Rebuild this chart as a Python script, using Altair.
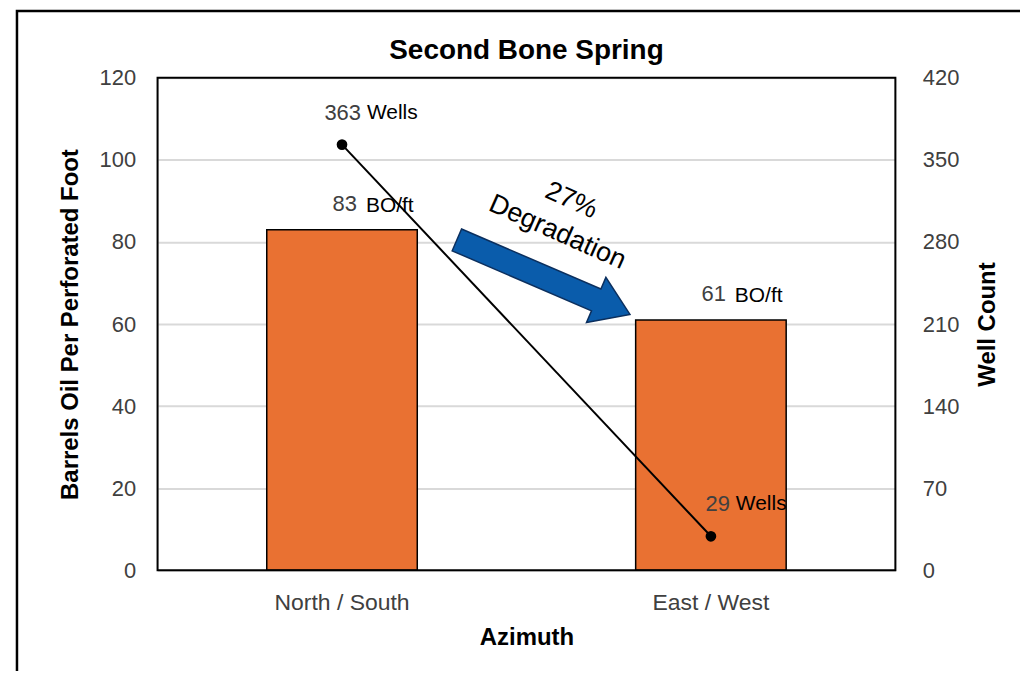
import altair as alt
import pandas as pd

categories = ["North / South", "East / West"]
bo_per_ft = [83, 61]
well_count = [363, 29]
bo_unit = ["BO/ft", "BO/ft"]
well_unit = ["Wells", "Wells"]
left_ticks = [0, 20, 40, 60, 80, 100, 120]
right_ticks = [0, 70, 140, 210, 280, 350, 420]
title_text = ["Second Bone Spring"]
arrow_pct = ["27%"]
arrow_word = ["Degradation"]

df = pd.DataFrame({
    "cat": categories,
    "bo": bo_per_ft,
    "wells": well_count,
    "bo_unit": bo_unit,
    "well_unit": well_unit,
})

FONT = "Liberation Sans"
W, H = 740, 494
ORANGE = "#E97132"
LABEL_GRAY = "#404040"

x_enc = alt.X(
    "cat:N", sort=categories,
    scale=alt.Scale(paddingInner=0.592, paddingOuter=0.296),
    axis=alt.Axis(title="Azimuth", labelAngle=0, labelFont=FONT, labelFontSize=23,
                  labelColor=LABEL_GRAY, labelPadding=21, ticks=False, domain=False,
                  titleFont=FONT, titleFontSize=24, titleFontWeight="bold",
                  titleColor="black", titlePadding=11),
)

y_left = alt.Y(
    "bo:Q", scale=alt.Scale(domain=[0, 120], nice=False),
    axis=alt.Axis(values=left_ticks, title="Barrels Oil Per Perforated Foot",
                  grid=True, gridColor="#D9D9D9", gridWidth=2, ticks=False, domain=False,
                  labelFont=FONT, labelFontSize=22, labelColor=LABEL_GRAY, labelPadding=22,
                  titleFont=FONT, titleFontSize=24, titleFontWeight="bold",
                  titleColor="black", titlePadding=17),
)

y_right = alt.Y(
    "wells:Q", scale=alt.Scale(domain=[0, 420], nice=False),
    axis=alt.Axis(orient="right", values=right_ticks, title="Well Count", grid=False,
                  ticks=False, domain=False, labelFont=FONT, labelFontSize=22,
                  labelColor=LABEL_GRAY, labelPadding=27, titleFont=FONT,
                  titleFontSize=24, titleFontWeight="bold", titleColor="black",
                  titleAngle=270, titleX=92, titleY=H / 2, titleAlign="center",
                  titleBaseline="middle"),
)

bars = alt.Chart().mark_bar(color=ORANGE, stroke="black", strokeWidth=1.5).encode(
    x=x_enc, y=y_left)
bar_num = alt.Chart().mark_text(align="right", baseline="alphabetic", dx=15, dy=-19,
                                font=FONT, fontSize=22, color=LABEL_GRAY).encode(
    x=x_enc, y=y_left, text="bo:Q")
bar_unit = alt.Chart().mark_text(align="left", baseline="alphabetic", dx=24, dy=-18,
                                 font=FONT, fontSize=21, color="black").encode(
    x=x_enc, y=y_left, text="bo_unit:N")
left = alt.layer(bars, bar_num, bar_unit)

line = alt.Chart().mark_line(color="black", strokeWidth=2).encode(
    x=x_enc, y=y_right, order=alt.Order("wells:Q", sort="descending"))
pts = alt.Chart().mark_point(filled=True, color="black", size=115, opacity=1).encode(
    x=x_enc, y=y_right)
well_num = alt.Chart().mark_text(align="right", baseline="alphabetic", dx=19, dy=-25,
                                 font=FONT, fontSize=22, color=LABEL_GRAY).encode(
    x=x_enc, y=y_right, text="wells:Q")
well_unit_t = alt.Chart().mark_text(align="left", baseline="alphabetic", dx=25, dy=-26,
                                    font=FONT, fontSize=21, color="black").encode(
    x=x_enc, y=y_right, text="well_unit:N")
right = alt.layer(line, pts, well_num, well_unit_t)

ARROW_PATH = ("M -1 -0.126 L 0.61 -0.126 L 0.61 -0.26 L 1 0 L 0.61 0.26 "
              "L 0.61 0.126 L -1 0.126 Z")
arrow = alt.Chart(pd.DataFrame({"k": [0]})).mark_point(
    shape=ARROW_PATH, size=35721, filled=True, fill="#0A5CAB", stroke="#0B2F5E",
    strokeWidth=1.5, angle=23.3, opacity=1, fillOpacity=1).encode(
    x=alt.value(387), y=alt.value(200))

t_pct = alt.Chart(pd.DataFrame({"t": arrow_pct})).mark_text(
    angle=24, font=FONT, fontSize=27, color="black", align="center", baseline="middle").encode(
    x=alt.value(415), y=alt.value(123), text="t:N")
t_word = alt.Chart(pd.DataFrame({"t": arrow_word})).mark_text(
    angle=24, font=FONT, fontSize=27, color="black", align="center", baseline="middle").encode(
    x=alt.value(401), y=alt.value(155), text="t:N")

title_mark = alt.Chart(pd.DataFrame({"t": title_text})).mark_text(
    font=FONT, fontSize=28, fontWeight="bold", color="black", align="center",
    baseline="alphabetic").encode(
    x=alt.value(W / 2), y=alt.value(-19), text="t:N")

plot_frame = alt.Chart(pd.DataFrame({"k": [0]})).mark_rect(
    fillOpacity=0, stroke="black", strokeWidth=2).encode(
    x=alt.value(0), x2=alt.value(W), y=alt.value(0), y2=alt.value(H))
outer_frame = alt.Chart(pd.DataFrame({"k": [0]})).mark_rect(
    fillOpacity=0, stroke="black", strokeWidth=2.5).encode(
    x=alt.value(-141), x2=alt.value(1000), y=alt.value(-67), y2=alt.value(700))

chart = alt.layer(
    left, right, arrow, t_pct, t_word, title_mark, plot_frame, outer_frame, data=df
).resolve_scale(y="independent").properties(
    width=W, height=H,
    autosize=alt.AutoSizeParams(type="none"),
    padding={"left": 150, "top": 69, "right": 125, "bottom": 100},
).configure_view(stroke=None).configure(background="white")

chart.save("out.html", embed_options={"renderer": "svg", "actions": False})
